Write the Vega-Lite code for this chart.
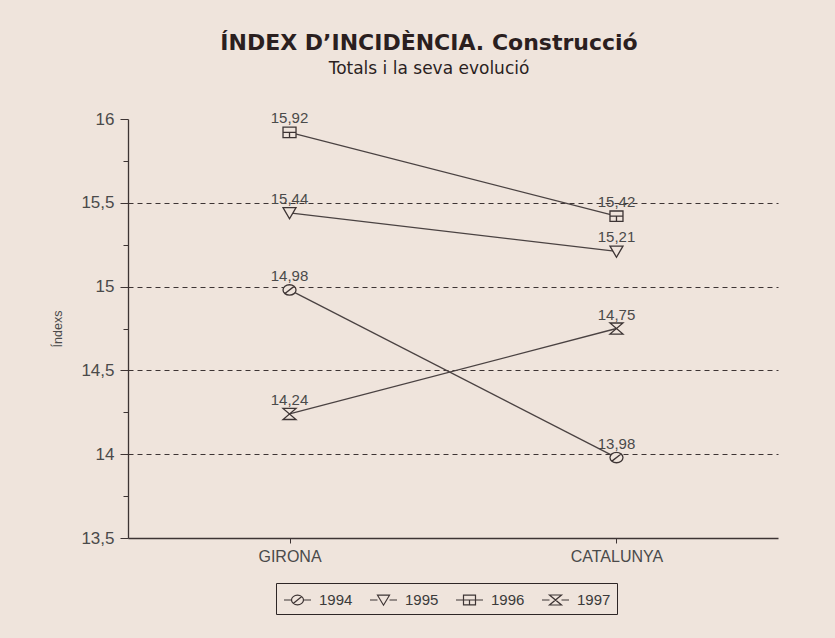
{
  "$schema": "https://vega.github.io/schema/vega-lite/v6.json",
  "width": 650,
  "height": 419,
  "autosize": {"type": "none"},
  "padding": {"left": 128, "top": 119, "right": 57, "bottom": 100},
  "background": "#efe4dc",
  "config": {
    "locale": {"number": {"decimal": ",", "thousands": ".", "grouping": [3], "currency": ["", " €"]}},
    "view": {"stroke": null},
    "font": "Liberation Sans"
  },
  "title": {
    "text": "ÍNDEX D’INCIDÈNCIA. Construcció",
    "subtitle": "Totals i la seva evolució",
    "font": "DejaVu Sans",
    "fontSize": 22,
    "fontWeight": "bold",
    "color": "#2b1f1f",
    "subtitleFont": "DejaVu Sans",
    "subtitleFontSize": 17,
    "subtitleColor": "#2b1f1f",
    "anchor": "middle",
    "dx": -24,
    "offset": 32,
    "subtitlePadding": 6
  },
  "data": {
    "values": [
      {"area": "GIRONA", "year": "1994", "index": 14.98},
      {"area": "GIRONA", "year": "1995", "index": 15.44},
      {"area": "GIRONA", "year": "1996", "index": 15.92},
      {"area": "GIRONA", "year": "1997", "index": 14.24},
      {"area": "CATALUNYA", "year": "1994", "index": 13.98},
      {"area": "CATALUNYA", "year": "1995", "index": 15.21},
      {"area": "CATALUNYA", "year": "1996", "index": 15.42},
      {"area": "CATALUNYA", "year": "1997", "index": 14.75}
    ]
  },
  "encoding": {
    "x": {
      "field": "area",
      "type": "nominal",
      "sort": ["GIRONA", "CATALUNYA"],
      "scale": {"type": "point", "padding": 0.494},
      "axis": {
        "title": null,
        "labelAngle": 0,
        "labelFontSize": 16,
        "labelColor": "#4a4a4a",
        "tickSize": 5,
        "tickColor": "#3d3434",
        "domainColor": "#3d3434",
        "domainWidth": 1.3,
        "labelPadding": 5,
        "grid": false
      }
    },
    "y": {
      "field": "index",
      "type": "quantitative",
      "scale": {"domain": [13.5, 16], "nice": false, "zero": false},
      "axis": {
        "values": [13.5, 13.75, 14, 14.25, 14.5, 14.75, 15, 15.25, 15.5, 15.75, 16],
        "format": ".1~f",
        "labelExpr": "datum.value % 0.5 == 0 ? datum.label : ''",
        "title": "Índexs",
        "titleFont": "Liberation Sans",
        "titleFontSize": 12.5,
        "titleFontWeight": "normal",
        "titleColor": "#4a4a4a",
        "titlePadding": 16,
        "labelFontSize": 17,
        "labelColor": "#4a4a4a",
        "labelPadding": 6,
        "tickSize": {"condition": {"test": "datum.value % 0.5 == 0", "value": 8}, "value": 5},
        "tickColor": "#3d3434",
        "domainColor": "#3d3434",
        "domainWidth": 1.3,
        "grid": true,
        "gridDash": [5, 4],
        "gridColor": "#3d3434",
        "gridWidth": 1,
        "gridOpacity": {"condition": {"test": "datum.value % 0.5 == 0 && datum.value > 13.5 && datum.value < 16", "value": 1}, "value": 0}
      }
    }
  },
  "layer": [
    {
      "mark": {"type": "point", "filled": false, "stroke": "#3d3434", "strokeWidth": 1.2, "size": 400, "opacity": 0},
      "encoding": {
        "shape": {
          "field": "year",
          "type": "nominal",
          "scale": {
            "domain": ["1994", "1995", "1996", "1997"],
            "range": [
              "M-0.9,0H-0.15M1.05,0H1.8M-0.15,0A0.6,0.48 0 1,1 1.05,0A0.6,0.48 0 1,1 -0.15,0ZM0.05,0.33L0.85,-0.33",
              "M-0.9,0H-0.15M1.05,0H1.8M-0.15,-0.48L1.05,-0.48L0.45,0.52Z",
              "M-0.9,0H-0.15M1.05,0H1.8M-0.15,-0.48H1.05V0.48H-0.15ZM-0.15,0H1.05M0.45,0V0.48",
              "M-0.9,0H-0.15M1.05,0H1.8M-0.15,-0.5H1.05L-0.15,0.5H1.05Z"
            ]
          },
          "legend": {
            "title": null,
            "orient": "none",
            "legendX": 148,
            "legendY": 464,
            "direction": "horizontal",
            "padding": 6,
            "strokeColor": "#2e2626",
            "fillColor": "#efe4dc",
            "symbolSize": 400,
            "symbolStrokeWidth": 1.2,
            "symbolOpacity": 1,
            "labelFontSize": 15,
            "labelColor": "#3a3a3a",
            "labelFont": "Liberation Sans",
            "columnPadding": 14,
            "labelOffset": 15
          }
        }
      }
    },
    {
      "mark": {"type": "line", "color": "#4a4242", "strokeWidth": 1.3},
      "encoding": {"detail": {"field": "year", "type": "nominal"}}
    },
    {
      "mark": {"type": "point", "filled": false, "fill": "#efe4dc", "stroke": "#3d3434", "strokeWidth": 1.3, "size": 169, "opacity": 1},
      "encoding": {
        "shape": {
          "field": "year",
          "type": "nominal",
          "scale": {
            "domain": ["1994", "1995", "1996", "1997"],
            "range": [
              "M-1,0A1,0.8 0 1,1 1,0A1,0.8 0 1,1 -1,0ZM-0.7,0.55L0.7,-0.55",
              "M-1,-0.8L1,-0.8L0,0.9Z",
              "M-1,-0.8H1V0.8H-1ZM-1,0H1M0,0V0.8",
              "M-1,-0.85H1L-1,0.85H1Z"
            ]
          },
          "legend": null
        }
      }
    },
    {
      "mark": {"type": "text", "dy": -9, "baseline": "alphabetic", "fontSize": 15, "color": "#4a4a4a", "font": "Liberation Sans"},
      "encoding": {"text": {"field": "index", "type": "quantitative", "format": ".2f"}}
    }
  ],
  "resolve": {"scale": {"shape": "independent"}, "legend": {"shape": "independent"}}
}
